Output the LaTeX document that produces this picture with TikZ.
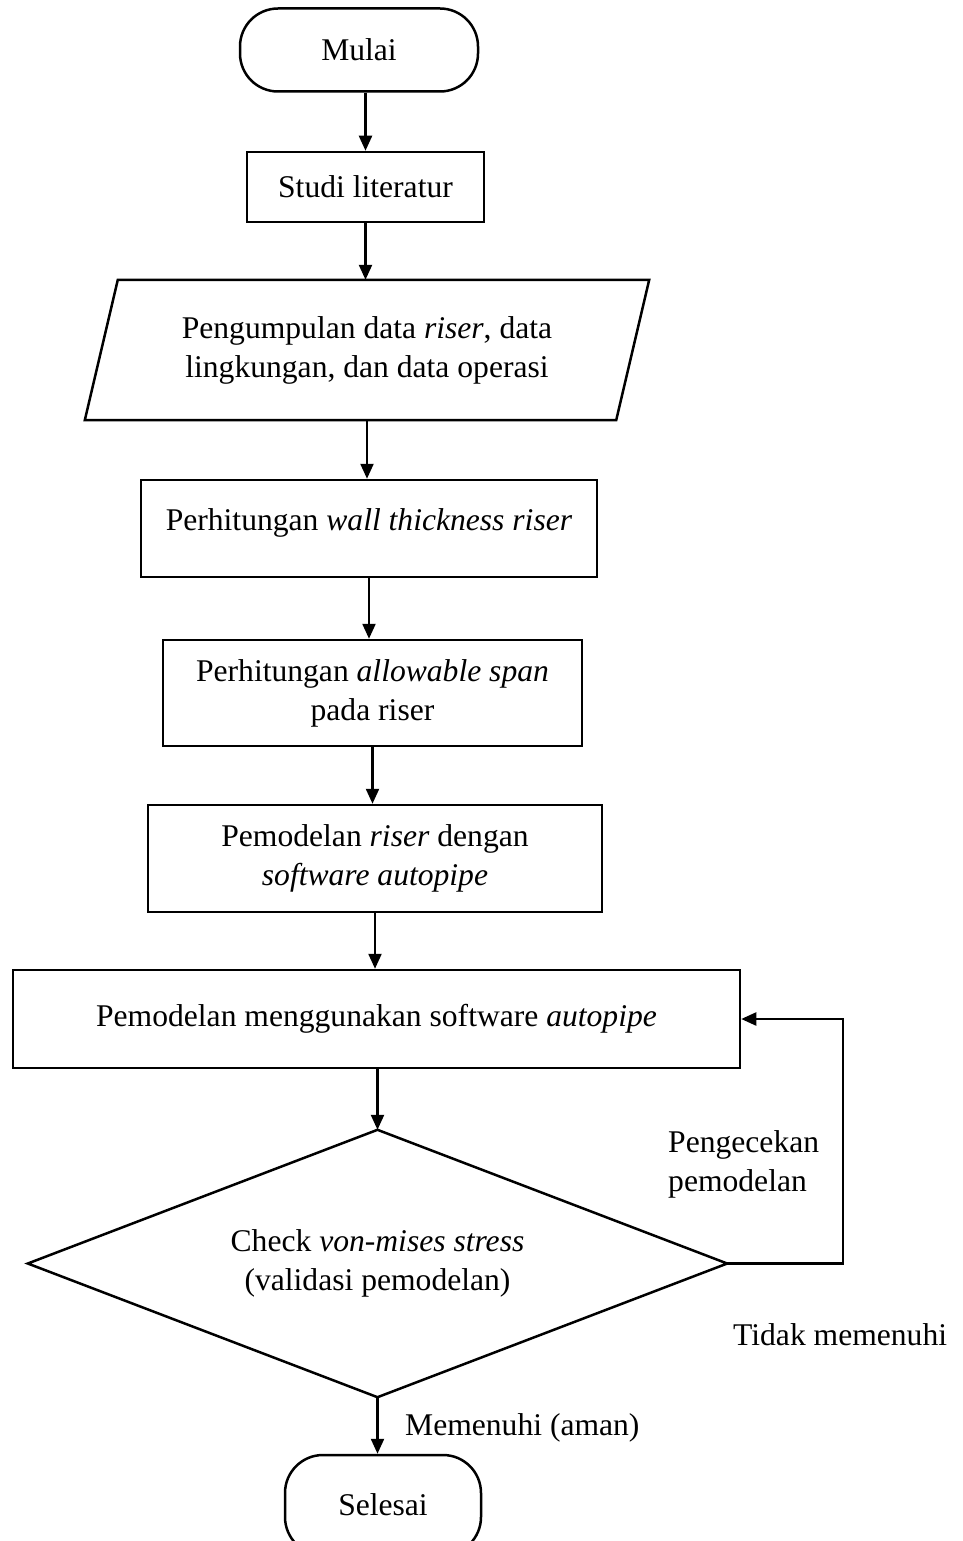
\documentclass[tikz,border=0pt]{standalone}
\usepackage{fontspec}
\setmainfont{Liberation Serif}
\usetikzlibrary{arrows.meta}
\begin{document}
\begin{tikzpicture}[x=1pt,y=-1pt,
  every node/.style={font=\fontsize{31.6}{39}\selectfont, inner sep=0pt, align=center},
  box/.style={draw, line width=2.5pt},
  term/.style={draw, line width=2.5pt, rounded corners=38pt},
  ghost/.style={draw=none},
  shapeline/.style={line width=2.5pt, line join=miter},
  conn/.style={line width=2.3pt, -{Triangle[length=15pt,width=13pt]}},
  lbl/.style={align=left}]
\useasboundingbox (0,0) rectangle (962,1541);

\node[term, minimum width=238pt, minimum height=83pt] (mulai) at (359,50) {Mulai};
\node[box, minimum width=237pt, minimum height=70pt] (studi) at (365.5,187) {Studi literatur};
\node[ghost, minimum width=531pt, minimum height=140pt] (para) at (367,350)
  {Pengumpulan data \textit{riser}, data\\lingkungan, dan data operasi};
\draw[shapeline] ([xshift=16.5pt]para.north west) -- ([xshift=16.5pt]para.north east)
  -- ([xshift=-16.5pt]para.south east) -- ([xshift=-16.5pt]para.south west) -- cycle;
\node[box, minimum width=456pt, minimum height=97pt, text height=22pt, text depth=19pt] (thick) at (369,528.5)
  {Perhitungan \textit{wall thickness riser}};
\node[box, minimum width=419pt, minimum height=106pt] (span) at (372.5,693)
  {Perhitungan \textit{allowable span}\\pada riser};
\node[box, minimum width=454pt, minimum height=107pt] (model) at (375,858.5)
  {Pemodelan \textit{riser} dengan\\\textit{software autopipe}};
\node[box, minimum width=727pt, minimum height=98pt] (soft) at (376.5,1019)
  {Pemodelan menggunakan software \textit{autopipe}};
\node[ghost, minimum width=699pt, minimum height=267pt] (dia) at (377.5,1263.5)
  {Check \textit{von-mises stress}\\(validasi pemodelan)};
\draw[shapeline] (dia.north) -- (dia.east) -- (dia.south) -- (dia.west) -- cycle;
\node[term, minimum width=196pt, minimum height=100pt] (selesai) at (383,1505) {Selesai};

\draw[conn] (studi.north |- mulai.south) -- (studi.north);
\draw[conn] (studi.south) -- (studi.south |- para.north);
\draw[conn] (para.south) -- (para.south |- thick.north);
\draw[conn] (thick.south) -- (thick.south |- span.north);
\draw[conn] (span.south) -- (span.south |- model.north);
\draw[conn] (model.south) -- (model.south |- soft.north);
\draw[conn] (dia.north |- soft.south) -- (dia.north);
\draw[conn] (dia.south) -- (dia.south |- selesai.north);
\coordinate (fbc) at (843,1263.5);
\draw[conn] (dia.east) -- (fbc) |- (soft.east);

\node[lbl, anchor=west] (cek) at (668,1164) {Pengecekan\\pemodelan};
\node[anchor=west] (tidak) at (733,1335) {Tidak memenuhi};
\node[anchor=west] (aman) at (405,1428) {Memenuhi (aman)};
\end{tikzpicture}
\end{document}
